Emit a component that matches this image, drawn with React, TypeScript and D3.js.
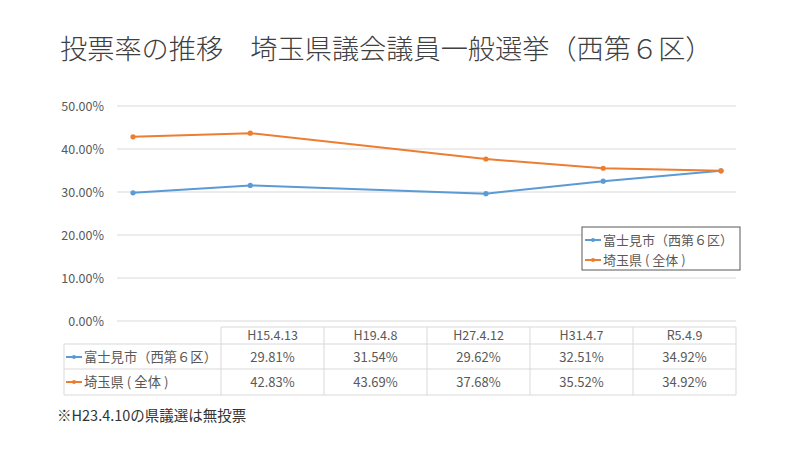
import React from "react";
import * as d3 from "d3";

const dates = ["2003-04-13", "2007-04-08", "2015-04-12", "2019-04-07", "2023-04-09"];
const dateLabels = ["H15.4.13", "H19.4.8", "H27.4.12", "H31.4.7", "R5.4.9"];
const fujimi = [29.81, 31.54, 29.62, 32.51, 34.92];
const saitama = [42.83, 43.69, 37.68, 35.52, 34.92];
const seriesNames = ["富士見市（西第６区）", "埼玉県 ( 全体 )"];
const yTicks = [0, 10, 20, 30, 40, 50];
const colors = ["#5B9BD5", "#ED7D31"];

const FONT = "'Noto Sans CJK JP', 'Noto Sans', sans-serif";

export default function App() {
  const parse = d3.timeParse("%Y-%m-%d");
  const dts = dates.map((d) => parse(d) as Date);
  const x = d3.scaleTime().domain([dts[0], dts[dts.length - 1]]).range([133, 721]);
  const y = d3.scaleLinear().domain([0, 50]).range([321, 106]);
  const series = [fujimi, saitama];
  const line = d3
    .line<number>()
    .x((_, i) => x(dts[i]))
    .y((v) => y(v));

  const colX = d3.scaleBand<number>().domain(d3.range(5)).range([221, 736]);
  const rowTop = [327, 344, 369, 395];

  return (
    <svg width={800} height={450} style={{ position: "absolute", left: 0, top: 0, background: "#fff" }} fontFamily={FONT}>
      <rect width={800} height={450} fill="#fff" />
      <text x={60} y={59} fontSize={27.2} fill="#404040" fontWeight={300}>
        投票率の推移　埼玉県議会議員一般選挙（西第６区）
      </text>
      {yTicks.map((t) => (
        <g key={t}>
          <line x1={117} x2={736} y1={y(t)} y2={y(t)} stroke="#d9d9d9" strokeWidth={1} />
          <text x={104} y={y(t) + 4.5} textAnchor="end" fontSize={12.5} fill="#595959">
            {t.toFixed(2)}%
          </text>
        </g>
      ))}
      {series.map((s, k) => (
        <g key={k}>
          <path d={line(s) || ""} fill="none" stroke={colors[k]} strokeWidth={2} />
          {s.map((v, i) => (
            <circle key={i} cx={x(dts[i])} cy={y(v)} r={2.6} fill={colors[k]} />
          ))}
        </g>
      ))}
      {/* legend */}
      <rect x={582} y={227} width={158} height={43} fill="#fff" stroke="#595959" strokeWidth={1} />
      {seriesNames.map((n, k) => (
        <g key={k}>
          <line x1={585} x2={601} y1={240 + k * 20} y2={240 + k * 20} stroke={colors[k]} strokeWidth={2} />
          <circle cx={593} cy={240 + k * 20} r={2} fill={colors[k]} />
          <text x={603} y={244.5 + k * 20} fontSize={13} fill="#595959">
            {n}
          </text>
        </g>
      ))}
      {/* data table */}
      <g stroke="#d9d9d9" strokeWidth={1} fill="none">
        <line x1={221} x2={736} y1={rowTop[0]} y2={rowTop[0]} />
        <line x1={64} x2={736} y1={rowTop[1]} y2={rowTop[1]} />
        <line x1={64} x2={736} y1={rowTop[2]} y2={rowTop[2]} />
        <line x1={64} x2={736} y1={rowTop[3]} y2={rowTop[3]} />
        <line x1={64} x2={64} y1={rowTop[1]} y2={rowTop[3]} />
        {d3.range(6).map((i) => {
          const xx = i < 5 ? (colX(i) as number) : 736;
          return <line key={i} x1={xx} x2={xx} y1={rowTop[0]} y2={rowTop[3]} />;
        })}
      </g>
      {dateLabels.map((l, i) => (
        <text key={l} x={(colX(i) as number) + colX.bandwidth() / 2} y={340} textAnchor="middle" fontSize={12.5} fill="#595959">
          {l}
        </text>
      ))}
      {series.map((s, k) => (
        <g key={k}>
          <line x1={66} x2={82} y1={357 + k * 25} y2={357 + k * 25} stroke={colors[k]} strokeWidth={2} />
          <circle cx={74} cy={357 + k * 25} r={2} fill={colors[k]} />
          <text x={84} y={362 + k * 25} fontSize={13.3} fill="#595959">
            {seriesNames[k]}
          </text>
          {s.map((v, i) => (
            <text key={i} x={(colX(i) as number) + colX.bandwidth() / 2} y={362 + k * 25} textAnchor="middle" fontSize={13} fill="#595959">
              {v.toFixed(2)}%
            </text>
          ))}
        </g>
      ))}
      <text x={57} y={421} fontSize={14.5} fill="#333">
        ※H23.4.10の県議選は無投票
      </text>
    </svg>
  );
}
